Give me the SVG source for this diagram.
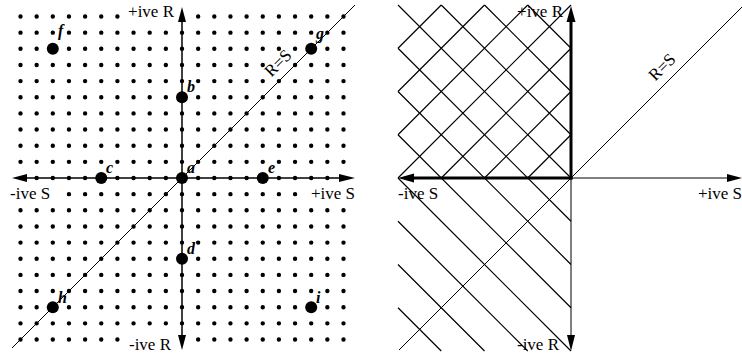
<svg xmlns="http://www.w3.org/2000/svg" width="742" height="359" viewBox="0 0 742 359">
<style>
.lbl{font-family:"Liberation Serif","Times New Roman",serif;font-size:17px;fill:#000}
.nl{font-family:"Liberation Serif","Times New Roman",serif;font-size:16px;font-style:italic;font-weight:bold;fill:#000}
.big{fill:#000}
.dots{stroke:#000;stroke-width:4.4;stroke-linecap:round;stroke-dasharray:0 16.15;fill:none}
.ax{stroke:#000;stroke-width:1.5;fill:none}
.thin{stroke:#000;stroke-width:1;fill:none}
.thick{stroke:#000;stroke-width:3;fill:none}
.hatch{stroke:#000;stroke-width:1.2;fill:none}
.head{fill:#000;stroke:none}
</style>
<rect width="742" height="359" fill="#fff"/>
<!-- left panel dot grid -->
<g id="grid">
<path class="dots" d="M20.5,16.5H117.5M198.15,16.5H343.6"/>
<path class="dots" d="M20.5,32.65H343.6"/>
<path class="dots" d="M20.5,48.8H343.6"/>
<path class="dots" d="M20.5,64.95H343.6"/>
<path class="dots" d="M20.5,81.1H343.6"/>
<path class="dots" d="M20.5,97.25H343.6"/>
<path class="dots" d="M20.5,113.4H343.6"/>
<path class="dots" d="M20.5,129.55H343.6"/>
<path class="dots" d="M20.5,145.7H343.6"/>
<path class="dots" d="M20.5,161.85H343.6"/>
<path class="dots" d="M36.65,178H327.4"/>
<path class="dots" d="M68.95,194.15H295.1"/>
<path class="dots" d="M20.5,210.3H343.6"/>
<path class="dots" d="M20.5,226.45H343.6"/>
<path class="dots" d="M20.5,242.6H343.6"/>
<path class="dots" d="M20.5,258.75H343.6"/>
<path class="dots" d="M20.5,274.9H343.6"/>
<path class="dots" d="M20.5,291.05H343.6"/>
<path class="dots" d="M20.5,307.2H343.6"/>
<path class="dots" d="M20.5,323.35H343.6"/>
<path class="dots" d="M20.5,339.5H117.5M198.15,339.5H343.6"/>
</g>
<!-- right panel hatching -->
<g id="hatching">
<path class="hatch" d="M398,307.75L441.25,351M398,264.5L484.5,351M398,221.25L527.75,351M398,178L571,351M398,134.75L571,307.75M398,91.5L571,264.5M398,48.25L571,221.25M398,5L571,178M441.25,5L571,134.75M484.5,5L571,91.5M527.75,5L571,48.25"/>
<path class="hatch" d="M527.75,178L571,134.75M484.5,178L571,91.5M441.25,178L571,48.25M398,178L571,5M398,134.75L527.75,5M398,91.5L484.5,5M398,48.25L441.25,5"/>
</g>
<g id="connectors">
<!-- left panel axes -->
<line class="ax" x1="182" y1="21" x2="182" y2="336"/>
<path class="head" d="M182,7L186,22L178,22z"/>
<path class="head" d="M182,350L186,335L178,335z"/>
<line class="ax" x1="26" y1="178" x2="340" y2="178"/>
<path class="head" d="M12,178L27,174L27,182z"/>
<path class="head" d="M355,178L339,174L339,182z"/>
<line class="thin" x1="12" y1="348" x2="355" y2="5"/>
<!-- right panel axes -->
<line class="thick" x1="571" y1="179.5" x2="571" y2="20"/>
<path class="head" d="M571,6L575.5,22L566.5,22z"/>
<line class="thin" x1="571" y1="178" x2="571" y2="336"/>
<path class="head" d="M571,351L575,335L567,335z"/>
<line class="thick" x1="572.5" y1="178" x2="412" y2="178"/>
<path class="head" d="M398,178L414,173.5L414,182.5z"/>
<line class="thin" x1="571" y1="178" x2="728" y2="178"/>
<path class="head" d="M742,178L727,174L727,182z"/>
<line class="thin" x1="399" y1="350" x2="742" y2="7"/>
</g>
<!-- nodes -->
<g id="node-a"><circle class="big" cx="182" cy="178" r="6"/><text class="nl" x="187" y="173">a</text></g>
<g id="node-b"><circle class="big" cx="182" cy="97.25" r="6"/><text class="nl" x="187" y="92">b</text></g>
<g id="node-c"><circle class="big" cx="101.25" cy="178" r="6"/><text class="nl" x="106" y="173">c</text></g>
<g id="node-d"><circle class="big" cx="182" cy="258.75" r="6"/><text class="nl" x="187" y="254">d</text></g>
<g id="node-e"><circle class="big" cx="262.75" cy="178" r="6"/><text class="nl" x="268" y="173">e</text></g>
<g id="node-f"><circle class="big" cx="52.8" cy="48.8" r="6"/><text class="nl" x="58" y="36">f</text></g>
<g id="node-g"><circle class="big" cx="311.2" cy="48.8" r="6"/><text class="nl" x="316" y="39">g</text></g>
<g id="node-h"><circle class="big" cx="52.8" cy="307.2" r="6"/><text class="nl" x="58" y="303">h</text></g>
<g id="node-i"><circle class="big" cx="311.2" cy="307.2" r="6"/><text class="nl" x="316" y="303">i</text></g>
<!-- axis labels -->
<g id="labels">
<text class="lbl" x="174" y="17" text-anchor="end">+ive R</text>
<text class="lbl" x="171" y="350" text-anchor="end">-ive R</text>
<text class="lbl" x="10" y="199">-ive S</text>
<text class="lbl" x="355" y="199" text-anchor="end">+ive S</text>
<g transform="translate(282,67) rotate(-45)">
<rect x="-17" y="-12" width="34" height="13" fill="#fff"/>
<text class="lbl" text-anchor="middle">R=S</text>
</g>
<text class="lbl" x="563" y="17" text-anchor="end">+ive R</text>
<text class="lbl" x="559" y="350" text-anchor="end">-ive R</text>
<text class="lbl" x="398" y="199">-ive S</text>
<text class="lbl" x="742" y="199" text-anchor="end">+ive S</text>
<text class="lbl" text-anchor="middle" transform="translate(666,71) rotate(-45)">R=S</text>
</g>
</svg>
